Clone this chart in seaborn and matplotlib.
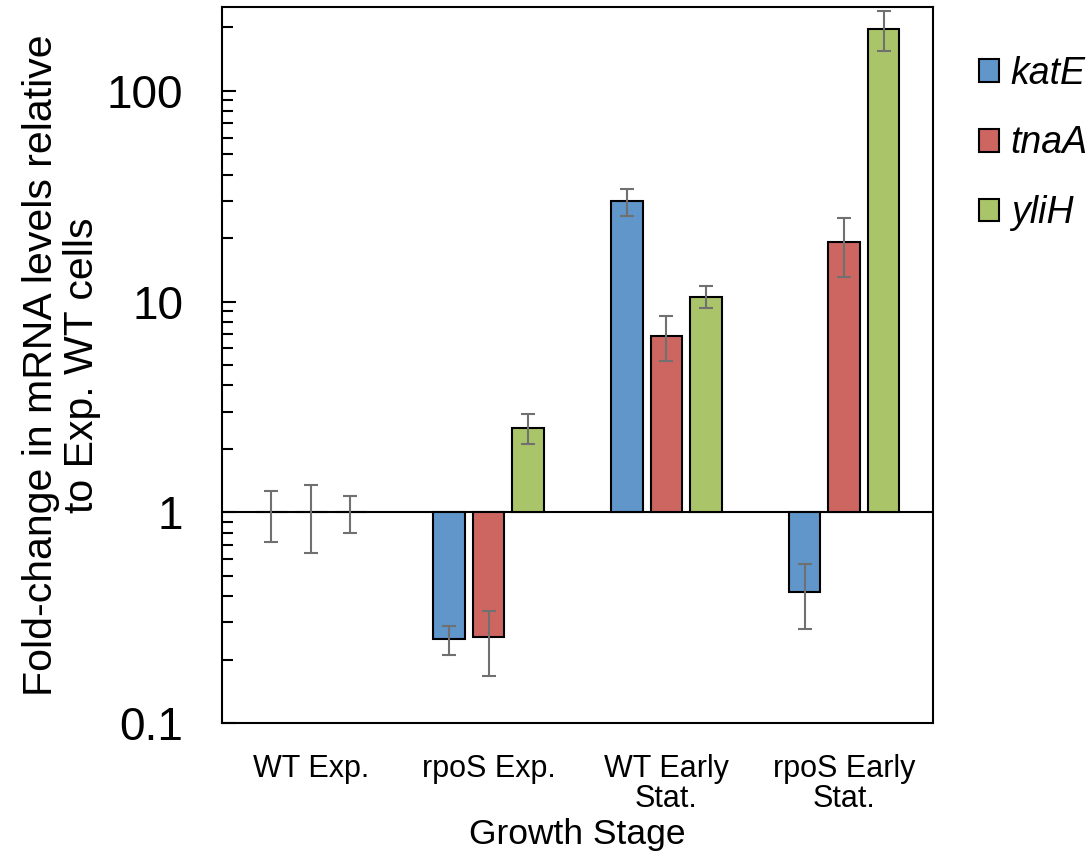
import matplotlib
matplotlib.use("Agg")
import matplotlib.pyplot as plt
from matplotlib.ticker import LogLocator, FuncFormatter, NullFormatter
import seaborn as sns
import numpy as np
import pandas as pd

# Data
stages = ["WT Exp.", "rpoS Exp.", "WT Early\nStat.", "rpoS Early\nStat."]
genes = ["katE", "tnaA", "yliH"]

katE = [1.0, 0.25, 30.0, 0.42]
tnaA = [1.0, 0.255, 6.9, 19.1]
yliH = [1.0, 2.5, 10.5, 196.0]

katE_lo = [0.72, 0.21, 25.5, 0.28]
katE_hi = [1.26, 0.29, 34.2, 0.57]
tnaA_lo = [0.64, 0.168, 5.2, 13.1]
tnaA_hi = [1.35, 0.34, 8.5, 24.8]
yliH_lo = [0.80, 2.10, 9.35, 155.0]
yliH_hi = [1.20, 2.92, 11.8, 240.0]

colors = ["#6096CA", "#CD6661", "#AAC46A"]

# Build long table
values = {"katE": katE, "tnaA": tnaA, "yliH": yliH}
lows = {"katE": katE_lo, "tnaA": tnaA_lo, "yliH": yliH_lo}
highs = {"katE": katE_hi, "tnaA": tnaA_hi, "yliH": yliH_hi}
rows = []
for g in genes:
    for s, v in zip(stages, values[g]):
        rows.append({"stage": s, "gene": g, "value": v})
df = pd.DataFrame(rows)
# bars grow from 1 on the log axis
df["height"] = df["value"] - 1

sns.set_style("white")
plt.rcParams["font.family"] = ["Liberation Sans", "DejaVu Sans"]
plt.rcParams["text.color"] = "black"
plt.rcParams["axes.labelcolor"] = "black"
plt.rcParams["xtick.color"] = "black"
plt.rcParams["ytick.color"] = "black"

fig = plt.figure(figsize=(10.89, 8.6), dpi=100)
ax = fig.add_axes([0.2039, 0.1593, 0.6528, 0.8326])

ax.axhline(1, color="black", lw=1.5, zorder=1)

sns.barplot(data=df, x="stage", y="height", hue="gene", order=stages, hue_order=genes,
            palette=colors, width=0.667, gap=0.2, bottom=1, edgecolor="black",
            linewidth=1.5, errorbar=None, legend=False, saturation=1, ax=ax, zorder=2)

# error bars at the bar centres
for g, cont in zip(genes, ax.containers):
    xs = [p.get_x() + p.get_width() / 2 for p in cont.patches]
    v = np.array(values[g])
    lo = v - np.array(lows[g])
    hi = np.array(highs[g]) - v
    ax.errorbar(xs, v, yerr=[lo, hi], fmt="none", ecolor="#707070",
                elinewidth=1.5, capsize=5, capthick=1.5, zorder=3)

ax.set_yscale("log")
ax.set_ylim(0.1, 250)
ax.set_xlim(-0.5, 3.5)
ax.yaxis.set_major_locator(LogLocator(base=10))
ax.yaxis.set_major_formatter(FuncFormatter(lambda v, _: f"{v:g}"))
ax.yaxis.set_minor_locator(LogLocator(base=10, subs=np.arange(2, 10)))
ax.yaxis.set_minor_formatter(NullFormatter())

ax.tick_params(axis="y", which="major", direction="in", length=10, width=1.5,
               labelsize=33, pad=28, left=True, color="black")
ax.tick_params(axis="y", which="minor", direction="in", length=8, width=1.5,
               left=True, color="black")
ax.tick_params(axis="x", length=0, labelsize=22, pad=22)
for lab in ax.get_xticklabels():
    lab.set_linespacing(1.0)

for sp in ax.spines.values():
    sp.set_color("black")
    sp.set_linewidth(1.5)

ax.set_ylabel("Fold-change in mRNA levels relative\nto Exp. WT cells", fontsize=29.5,
              labelpad=4, linespacing=1.1)
ax.set_xlabel("Growth Stage", fontsize=25.5, labelpad=3)

handles = [plt.Rectangle((0, 0), 1, 1, facecolor=c, edgecolor="black", lw=1.5) for c in colors]
leg = fig.legend(handles, genes, loc="upper left", bbox_to_anchor=(0.8816, 0.957),
                 frameon=False, fontsize=27, handlelength=0.55, handleheight=0.55,
                 handletextpad=0.3, labelspacing=0.9, borderpad=0)
for t in leg.get_texts():
    t.set_fontstyle("italic")

fig.savefig("out.png", dpi=100)
